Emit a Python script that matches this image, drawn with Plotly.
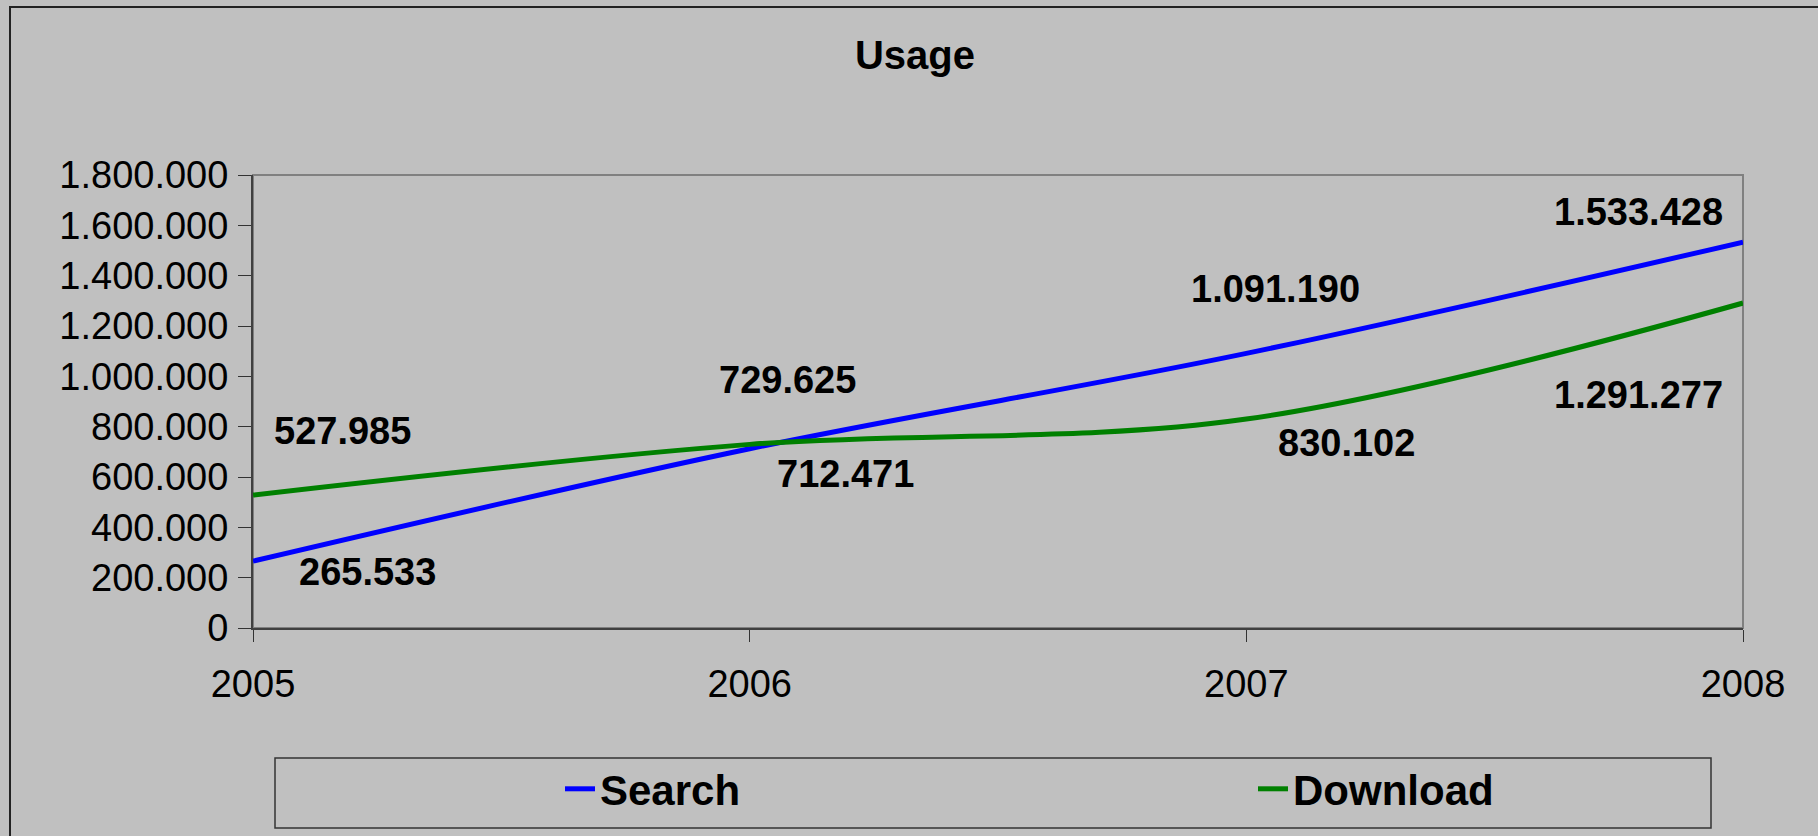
import plotly.graph_objects as go

years = [2005, 2006, 2007, 2008]
search = [265533, 712471, 1091190, 1533428]
download = [527985, 729625, 830102, 1291277]
y_ticks = [0, 200000, 400000, 600000, 800000, 1000000, 1200000, 1400000, 1600000, 1800000]

# label offsets (px) relative to each point: (xshift, yshift)
search_label_off = [(114, -11), (96, -25), (29, 64), (-105, 30)]
download_label_off = [(89, 64), (38, 64), (100, -24), (-105, -92)]

FONT = "Liberation Sans, Arial, sans-serif"
BG = "#c0c0c0"

fig = go.Figure()
fig.add_trace(go.Scatter(x=years, y=search, name="Search", mode="lines", legend="legend",
                         line=dict(color="#0000ff", width=5, shape="spline", smoothing=1)))
fig.add_trace(go.Scatter(x=years, y=download, name="Download", mode="lines", legend="legend2",
                         line=dict(color="#008000", width=5, shape="spline", smoothing=1)))

def fmt(v):
    return f"{v:,}".replace(",", ".")

for vals, offs in ((search, search_label_off), (download, download_label_off)):
    for x, v, (dx, dy) in zip(years, vals, offs):
        fig.add_annotation(x=x, y=v, text=fmt(v), showarrow=False, xshift=dx, yshift=dy,
                           font=dict(family=FONT, size=38, color="black", weight=700))

L, R, T, B = 253, 75, 175, 208
W, H = 1818, 836
pw, ph = W - L - R, H - T - B

# outer chart border (top/left visible, cropped at right/bottom)
fig.add_shape(type="rect", xref="paper", yref="paper",
              x0=(10 - L) / pw, x1=(W + 20 - L) / pw,
              y0=(H - B - (H + 20)) / ph, y1=(H - B - 7) / ph,
              line=dict(color="#222222", width=2), layer="below")
# plot area frame
fig.add_shape(type="rect", xref="paper", yref="paper", x0=0, x1=1, y0=0, y1=1,
              line=dict(color="#808080", width=2), layer="below")
# legend box
fig.add_shape(type="rect", xref="paper", yref="paper",
              x0=(275 - L) / pw, x1=(1711 - L) / pw,
              y0=(H - B - 828) / ph, y1=(H - B - 758) / ph,
              line=dict(color="#333333", width=1.5), layer="below")

axis_common = dict(tickfont=dict(family=FONT, size=38, color="black"),
                   showgrid=False, zeroline=False)

leg_common = dict(orientation="h", xanchor="left", yanchor="middle",
                  bgcolor="rgba(0,0,0,0)", borderwidth=0,
                  y=(H - B - 789) / ph,
                  font=dict(family=FONT, size=42, color="black", weight=700))

fig.update_layout(
    width=W, height=H,
    paper_bgcolor=BG, plot_bgcolor=BG,
    margin=dict(l=L, r=R, t=T, b=B, autoexpand=False),
    separators=",.",
    title=dict(text="Usage", x=915 / W, xref="container", xanchor="center",
               y=1 - 55 / H, yref="container", yanchor="middle",
               font=dict(family=FONT, size=40, color="black", weight=700)),
    xaxis=dict(range=[2005, 2008], tickvals=years, ticktext=[str(y) for y in years],
               ticks="outside", ticklen=12, tickcolor="#333333", tickwidth=1,
               showline=True, linecolor="#404040", linewidth=2,
               ticklabelstandoff=9, **axis_common),
    yaxis=dict(range=[0, 1800000], tickvals=y_ticks, tickformat=",d",
               ticks="outside", ticklen=13, tickcolor="#333333", tickwidth=1,
               showline=True, linecolor="#404040", linewidth=2,
               ticklabelstandoff=2, **axis_common),
    xaxis2=dict(overlaying="x", anchor="y", side="bottom", range=[2005, 2008],
                tickvals=years, ticks="inside", ticklen=12, tickcolor="#333333",
                showticklabels=False, showline=False, showgrid=False, zeroline=False),
    yaxis2=dict(overlaying="y", anchor="x", side="left", range=[0, 1800000],
                tickvals=y_ticks, ticks="inside", ticklen=12, tickcolor="#333333",
                showticklabels=False, showline=False, showgrid=False, zeroline=False),
    showlegend=True,
    legend=dict(x=(560 - L) / pw, **leg_common),
    legend2=dict(x=(1253 - L) / pw, **leg_common),
)

fig.write_html("out.html", config={"displayModeBar": False},
               post_script="document.body.style.margin='0';")
